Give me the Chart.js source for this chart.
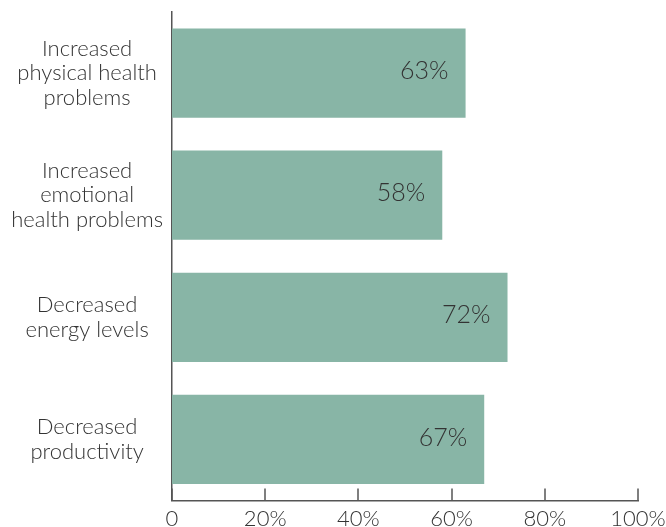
<!DOCTYPE html>
<html>
<head>
<meta charset="utf-8">
<script src="https://cdn.jsdelivr.net/npm/chart.js@4"></script>
<style>
  html, body { margin: 0; padding: 0; background: #fff; }
  #wrap { width: 666px; height: 527px; }
</style>
</head>
<body>
<div id="wrap"><canvas id="barChart" width="666" height="527"></canvas></div>
<script>
// categories and values
const categories = [
  ["Increased", "physical health", "problems"],
  ["Increased", "emotional", "health problems"],
  ["Decreased", "energy levels"],
  ["Decreased", "productivity"]
];
const values = [63, 58, 72, 67];
const tickValues = [0, 20, 40, 60, 80, 100];

const textColor = "#333333";
const fontFamily = "Lato, 'Open Sans', sans-serif";

// value labels inside the bars + tick marks pointing up from the x axis
const barLabels = {
  id: "barLabels",
  afterDatasetsDraw(chart) {
    const c = chart.ctx;
    const meta = chart.getDatasetMeta(0);
    c.save();
    c.fillStyle = textColor;
    c.font = "300 25px " + fontFamily;
    c.textAlign = "right";
    c.textBaseline = "middle";
    meta.data.forEach((bar, i) => {
      c.fillText(values[i] + "%", bar.x - 17, bar.y - 2);
    });
    c.restore();
  },
  afterDraw(chart) {
    const c = chart.ctx;
    const xs = chart.scales.x;
    const bottom = chart.chartArea.bottom;
    c.save();
    c.strokeStyle = "#555555";
    c.lineWidth = 1.5;
    tickValues.forEach(v => {
      const px = Math.round(xs.getPixelForValue(v));
      c.beginPath();
      c.moveTo(px, bottom - 12);
      c.lineTo(px, bottom);
      c.stroke();
    });
    c.restore();
  }
};

new Chart(document.getElementById("barChart"), {
  type: "bar",
  data: {
    labels: categories,
    datasets: [{
      data: values,
      backgroundColor: "#88b5a6",
      borderWidth: 0,
      barPercentage: 0.73,
      categoryPercentage: 1.0
    }]
  },
  options: {
    indexAxis: "y",
    responsive: false,
    animation: false,
    layout: { padding: { top: 12, right: 28, bottom: 0, left: 0 } },
    plugins: {
      legend: { display: false },
      tooltip: { enabled: false }
    },
    scales: {
      x: {
        min: 0,
        max: 100,
        afterBuildTicks(scale) {
          scale.ticks = tickValues.map(v => ({ value: v }));
        },
        afterFit(scale) {
          scale.height = 26.5;
          scale.paddingLeft = 0;
          scale.paddingRight = 0;
        },
        grid: { display: false, drawTicks: false },
        border: { display: true, color: "#555555", width: 1.5 },
        ticks: {
          color: textColor,
          font: { family: fontFamily, size: 22, weight: 300, lineHeight: 1 },
          padding: 7,
          maxRotation: 0,
          autoSkip: false,
          callback: v => (v === 0 ? "0" : v + "%")
        }
      },
      y: {
        afterFit(scale) {
          scale.width = 172;
          scale.paddingTop = 0;
          scale.paddingBottom = 0;
        },
        grid: { display: false, drawTicks: false },
        border: { display: true, color: "#555555", width: 1.5 },
        ticks: {
          color: textColor,
          crossAlign: "center",
          padding: 9,
          font: { family: fontFamily, size: 22, weight: 300, lineHeight: 1.12 }
        }
      }
    }
  },
  plugins: [barLabels]
});
</script>
</body>
</html>
